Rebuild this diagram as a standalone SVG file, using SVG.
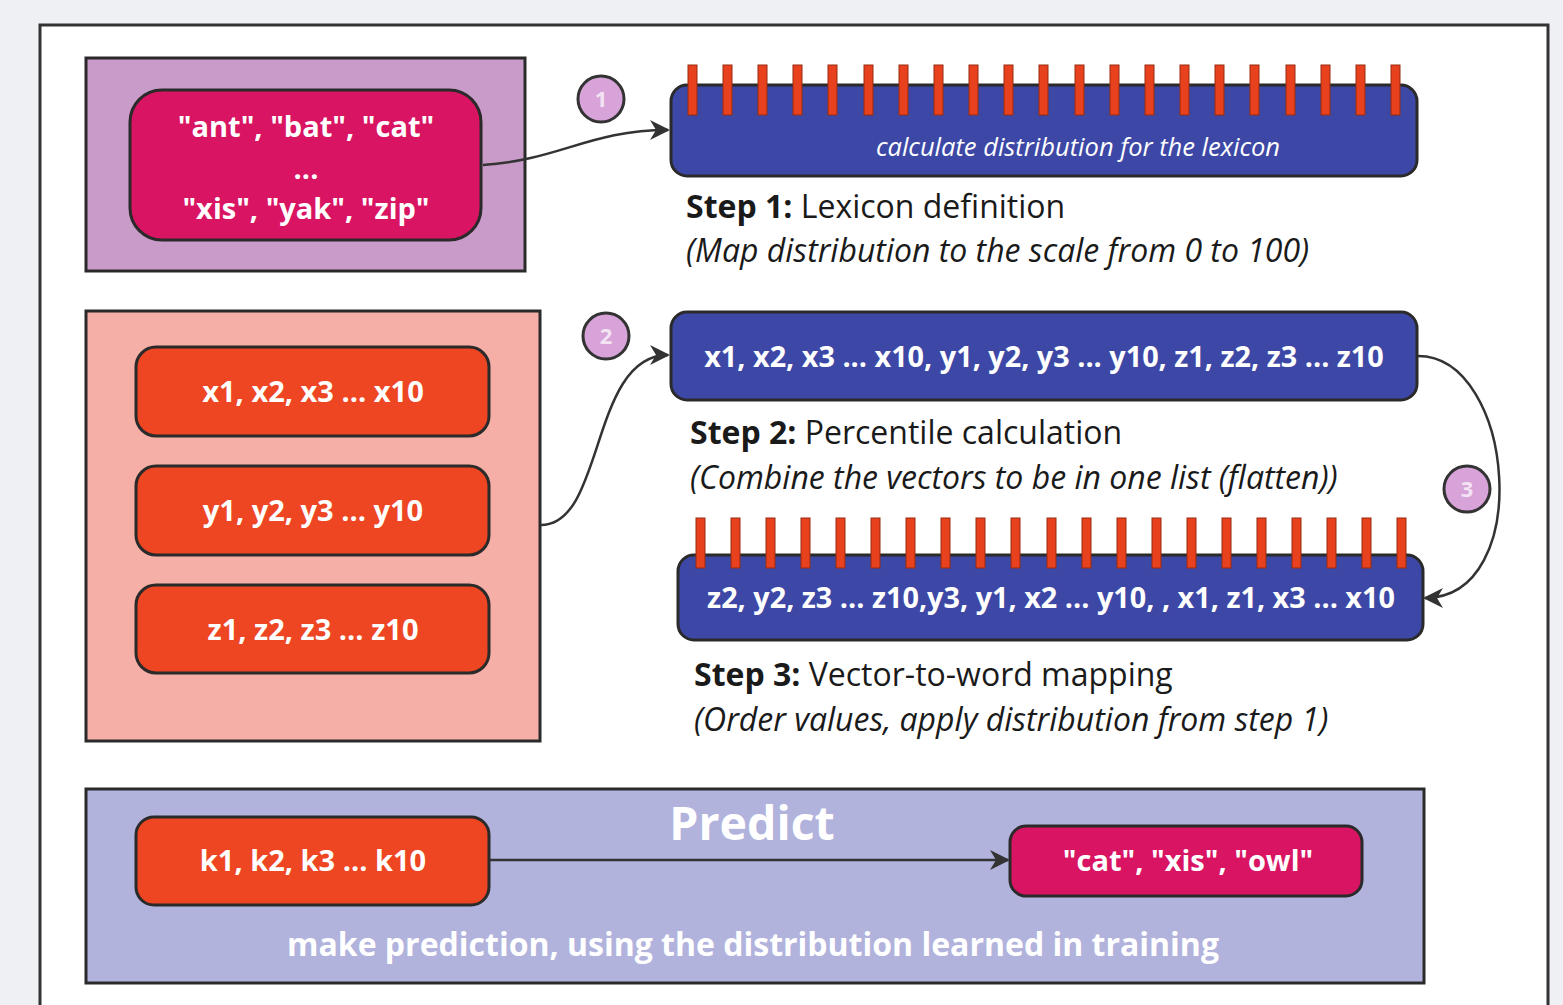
<svg xmlns="http://www.w3.org/2000/svg" width="1563" height="1005" viewBox="0 0 1563 1005">
<defs>
<style>
.frame{fill:#ffffff;stroke:#333333;stroke-width:3}
.box{stroke:#2a2a2a;stroke-width:3}
.pink{fill:#d81463}
.orange{fill:#ee4522}
.blue{fill:#3d48a6}
.tick{fill:#e8411e;stroke:#9a2a10;stroke-width:1}
.circ{fill:#d7a3d8;stroke:#333;stroke-width:3}
.wb{font-family:"Open Sans","Noto Sans",sans-serif;font-weight:700;fill:#ffffff;text-anchor:middle}
.wi{font-family:"Open Sans","Noto Sans",sans-serif;font-style:italic;fill:#ffffff;text-anchor:middle}
.lbl{font-family:"Open Sans","Noto Sans",sans-serif;fill:#1a1a1a;font-size:32px}
.num{font-family:"Open Sans","Noto Sans",sans-serif;font-weight:700;fill:#ffffff;font-size:22px;text-anchor:middle;opacity:0.7}
.conn{fill:none;stroke:#333;stroke-width:2.5}
</style>
<marker id="arrB" viewBox="0 0 10 10" refX="9" refY="5" markerWidth="20" markerHeight="20" markerUnits="userSpaceOnUse" orient="auto">
<path d="M0,0 L10,5 L0,10 L3,5 z" fill="#333"/>
</marker>
<g id="ticks1">
<rect class="tick" x="0" y="0" width="9" height="50"/>
</g>
</defs>
<rect x="0" y="0" width="1563" height="1005" fill="#eef0f3"/>
<rect class="frame" x="40" y="25" width="1508" height="1000"/>

<g id="lexicon-group">
<rect class="box" x="86" y="58" width="439" height="213" fill="#c99bc9"/>
<rect class="box pink" x="130" y="90" width="351" height="150" rx="32"/>
<text class="wb" font-size="29" x="306" y="137">"ant", "bat", "cat"</text>
<text class="wb" font-size="29" x="306" y="179">...</text>
<text class="wb" font-size="29" x="306" y="219">"xis", "yak", "zip"</text>
</g>

<g id="badge1"><circle class="circ" cx="601" cy="99" r="23"/><text class="num" x="601" y="107">1</text></g>
<g id="badge2"><circle class="circ" cx="606" cy="336" r="23"/><text class="num" x="606" y="344">2</text></g>
<g id="badge3"><circle class="circ" cx="1467" cy="489" r="23"/><text class="num" x="1467" y="497">3</text></g>

<g id="step1">
<rect class="box blue" x="671" y="85" width="746" height="91" rx="16"/>
<g id="t1">
<use href="#ticks1" x="688" y="65"/><use href="#ticks1" x="723" y="65"/><use href="#ticks1" x="758" y="65"/><use href="#ticks1" x="793" y="65"/><use href="#ticks1" x="828" y="65"/><use href="#ticks1" x="864" y="65"/><use href="#ticks1" x="899" y="65"/><use href="#ticks1" x="934" y="65"/><use href="#ticks1" x="969" y="65"/><use href="#ticks1" x="1004" y="65"/><use href="#ticks1" x="1039" y="65"/><use href="#ticks1" x="1075" y="65"/><use href="#ticks1" x="1110" y="65"/><use href="#ticks1" x="1145" y="65"/><use href="#ticks1" x="1180" y="65"/><use href="#ticks1" x="1215" y="65"/><use href="#ticks1" x="1250" y="65"/><use href="#ticks1" x="1286" y="65"/><use href="#ticks1" x="1321" y="65"/><use href="#ticks1" x="1356" y="65"/><use href="#ticks1" x="1391" y="65"/>
</g>
<text class="wi" font-size="25.5" x="1078" y="156">calculate distribution for the lexicon</text>
<text class="lbl" x="686" y="218"><tspan font-weight="700">Step 1:</tspan> Lexicon definition</text>
<text class="lbl" x="686" y="262" font-style="italic">(Map distribution to the scale from 0 to 100)</text>
</g>

<g id="vectors-group">
<rect class="box" x="86" y="311" width="454" height="430" fill="#f5afa6"/>
<rect class="box orange" x="136" y="347" width="353" height="89" rx="20"/>
<text class="wb" font-size="29" x="313" y="402">x1, x2, x3 ... x10</text>
<rect class="box orange" x="136" y="466" width="353" height="89" rx="20"/>
<text class="wb" font-size="29" x="313" y="521">y1, y2, y3 ... y10</text>
<rect class="box orange" x="136" y="585" width="353" height="88" rx="20"/>
<text class="wb" font-size="29" x="313" y="640">z1, z2, z3 ... z10</text>
</g>

<g id="step2">
<rect class="box blue" x="671" y="312" width="746" height="88" rx="16"/>
<text class="wb" font-size="28.8" x="1044" y="367">x1, x2, x3 ... x10, y1, y2, y3 ... y10, z1, z2, z3 ... z10</text>
<text class="lbl" x="690" y="444"><tspan font-weight="700">Step 2:</tspan> Percentile calculation</text>
<text class="lbl" x="690" y="489" font-style="italic">(Combine the vectors to be in one list (flatten))</text>
</g>

<g id="step3">
<rect class="box blue" x="678" y="555" width="745" height="85" rx="16"/>
<g id="t3">
<use href="#ticks1" x="696" y="518"/><use href="#ticks1" x="731" y="518"/><use href="#ticks1" x="766" y="518"/><use href="#ticks1" x="801" y="518"/><use href="#ticks1" x="836" y="518"/><use href="#ticks1" x="871" y="518"/><use href="#ticks1" x="906" y="518"/><use href="#ticks1" x="941" y="518"/><use href="#ticks1" x="976" y="518"/><use href="#ticks1" x="1011" y="518"/><use href="#ticks1" x="1047" y="518"/><use href="#ticks1" x="1082" y="518"/><use href="#ticks1" x="1117" y="518"/><use href="#ticks1" x="1152" y="518"/><use href="#ticks1" x="1187" y="518"/><use href="#ticks1" x="1222" y="518"/><use href="#ticks1" x="1257" y="518"/><use href="#ticks1" x="1292" y="518"/><use href="#ticks1" x="1327" y="518"/><use href="#ticks1" x="1362" y="518"/><use href="#ticks1" x="1397" y="518"/>
</g>
<text class="wb" font-size="28.8" x="1051" y="608">z2, y2, z3 ... z10,y3, y1, x2 ... y10, , x1, z1, x3 ... x10</text>
<text class="lbl" x="694" y="686"><tspan font-weight="700">Step 3:</tspan> Vector-to-word mapping</text>
<text class="lbl" x="694" y="731" font-style="italic">(Order values, apply distribution from step 1)</text>
</g>

<g id="predict">
<rect class="box" x="86" y="789" width="1338" height="194" fill="#b1b3dd"/>
<text class="wb" font-size="46.5" x="752" y="840">Predict</text>
<rect class="box orange" x="136" y="817" width="353" height="88" rx="18"/>
<text class="wb" font-size="29" x="313" y="871">k1, k2, k3 ... k10</text>
<rect class="box pink" x="1010" y="826" width="352" height="70" rx="16"/>
<text class="wb" font-size="29" x="1188" y="871">"cat", "xis", "owl"</text>
<text class="wb" font-size="32" x="753" y="956">make prediction, using the distribution learned in training</text>
</g>

<g id="connectors">
<path class="conn" d="M483,165 C560,160 590,130 668,130" marker-end="url(#arrB)"/>
<path class="conn" d="M541,525 C605,525 590,355 668,355" marker-end="url(#arrB)"/>
<path class="conn" d="M1418,356 C1515,356 1535,598 1425,598" marker-end="url(#arrB)"/>
<path class="conn" d="M490,860 L1008,860" marker-end="url(#arrB)"/>
</g>
</svg>
